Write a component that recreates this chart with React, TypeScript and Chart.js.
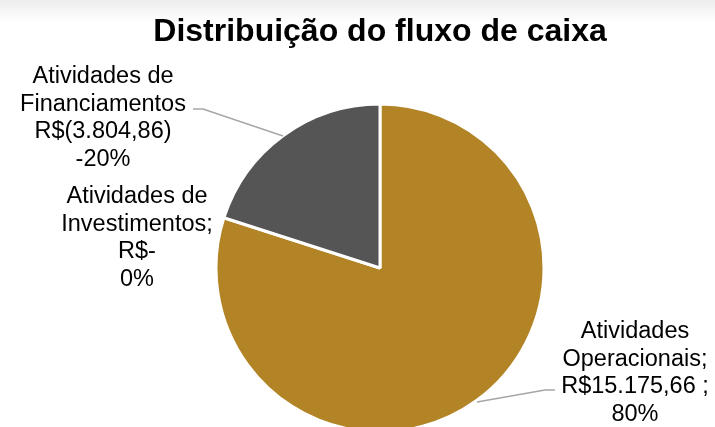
import React, { useEffect, useRef } from "react";
import { Chart, registerables } from "chart.js";

Chart.register(...registerables);

const chartTitle = "Distribuição do fluxo de caixa";
const categories = ["Atividades Operacionais", "Atividades de Investimentos", "Atividades de Financiamentos"];
const values = [15175.66, 0, -3804.86];
const valueLabels = ["R$15.175,66 ;", "R$-", "R$(3.804,86)"];
const percentLabels = ["80%", "0%", "-20%"];
const labelLines = [
  ["Atividades", "Operacionais;", valueLabels[0], percentLabels[0]],
  ["Atividades de", "Investimentos;", valueLabels[1], percentLabels[1]],
  ["Atividades de", "Financiamentos", valueLabels[2], percentLabels[2]],
];
const colors = ["#B38426", "#A5A5A5", "#555555"];

export default function App() {
  const ref = useRef<HTMLCanvasElement | null>(null);
  useEffect(() => {
    document.body.style.margin = "0";
    const canvas = ref.current!;
    const bgPlugin = {
      id: "bgPlugin",
      beforeDraw(chart: any) {
        const ctx = chart.ctx;
        ctx.save();
        const g = ctx.createLinearGradient(0, 0, 0, 22);
        g.addColorStop(0, "rgba(0,0,0,0.07)");
        g.addColorStop(1, "rgba(0,0,0,0)");
        ctx.fillStyle = g;
        ctx.fillRect(0, 0, chart.width, 22);
        ctx.restore();
      },
    };
    const labelPlugin = {
      id: "labelPlugin",
      afterDraw(chart: any) {
        const ctx = chart.ctx;
        const meta = chart.getDatasetMeta(0);
        const arc0 = meta.data[0];
        const cx = arc0.x;
        const cy = arc0.y;
        ctx.save();
        ctx.fillStyle = "#000";
        ctx.font = "bold 32px 'Liberation Sans', Arial, sans-serif";
        ctx.textAlign = "center";
        ctx.textBaseline = "alphabetic";
        ctx.fillText(chartTitle, cx, 41);

        const anchors = [
          { x: cx + 255, y: cy + 64, line: [[cx + 175, cy + 122], [cx + 165, cy + 122], [cx + 97, cy + 134]] },
          { x: cx - 243, y: cy - 71, line: null },
          { x: cx - 277, y: cy - 191, line: [[cx - 187, cy - 159], [cx - 177, cy - 159], [cx - 97, cy - 132]] },
        ];
        ctx.strokeStyle = "#A6A6A6";
        ctx.lineWidth = 1.5;
        anchors.forEach((a) => {
          if (!a.line) return;
          ctx.beginPath();
          a.line.forEach((p, i) => (i === 0 ? ctx.moveTo(p[0], p[1]) : ctx.lineTo(p[0], p[1])));
          ctx.stroke();
        });
        ctx.font = "23.5px 'Liberation Sans', Arial, sans-serif";
        ctx.textBaseline = "middle";
        ctx.fillStyle = "#000";
        anchors.forEach((a, i) => {
          labelLines[i].forEach((t, j) => {
            ctx.fillText(t, a.x, a.y + j * 27.4);
          });
        });
        ctx.restore();
      },
    };
    const chart = new Chart(canvas, {
      type: "pie",
      data: {
        labels: categories,
        datasets: [
          {
            data: values.map((v) => Math.abs(v)),
            backgroundColor: colors,
            borderColor: "#FFFFFF",
            borderWidth: 3,
            radius: 164,
            clip: false,
          } as any,
        ],
      },
      options: {
        responsive: false,
        animation: false,
        layout: { padding: { left: 45, top: 109, right: 0, bottom: 0 } },
        plugins: {
          legend: { display: false },
          title: { display: false },
          tooltip: { enabled: false },
        },
      },
      plugins: [bgPlugin, labelPlugin],
    });
    return () => chart.destroy();
  }, []);
  return <canvas ref={ref} width={715} height={427} style={{ display: "block" }} />;
}
